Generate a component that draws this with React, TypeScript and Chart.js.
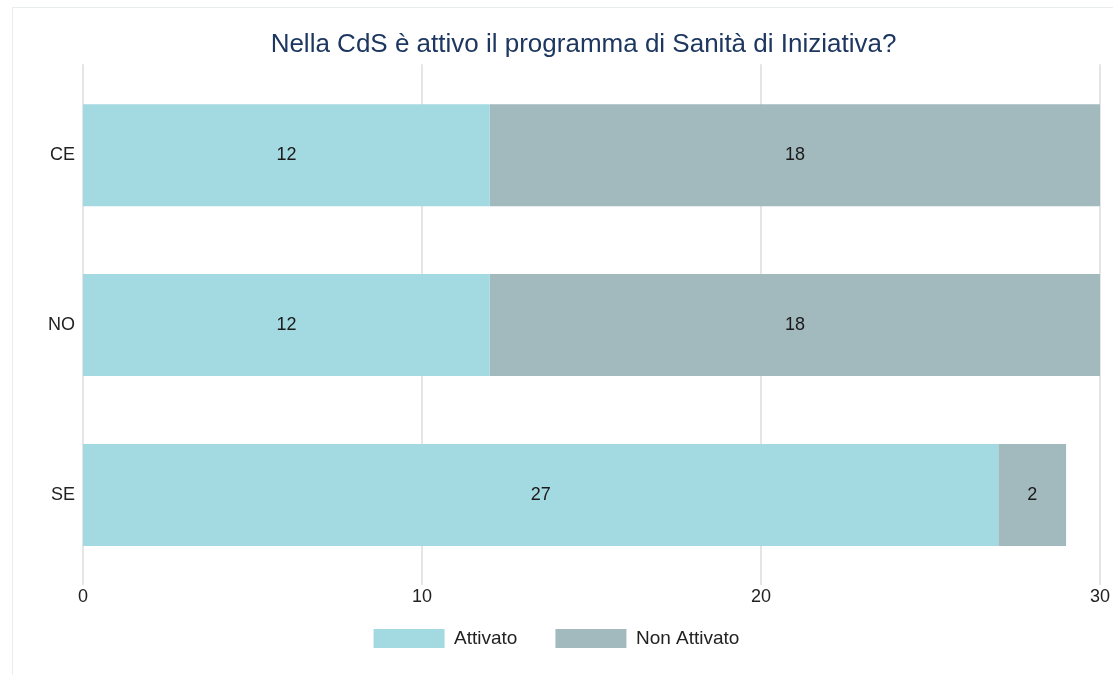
import React, { useEffect, useRef } from "react";
import { Chart, registerables } from "chart.js";

Chart.register(...registerables);

const categories = ["CE", "NO", "SE"];
const attivato = [12, 12, 27];
const nonAttivato = [18, 18, 2];
const seriesNames = ["Attivato", "Non Attivato"];
const xMin = 0;
const xMax = 30;
const xStep = 10;
const titleText = "Nella CdS è attivo il programma di Sanità di Iniziativa?";

const FONT = "'Liberation Sans', Arial, Helvetica, sans-serif";
const COLOR_ATT = "#a3d9e1";
const COLOR_NON = "#a2b9bd";

const gridPlugin = {
  id: "gridExt",
  beforeDatasetsDraw(chart: any) {
    const { ctx, chartArea, scales } = chart;
    const x = scales.x;
    ctx.save();
    ctx.strokeStyle = "#dcdcdc";
    ctx.lineWidth = 1.5;
    x.ticks.forEach((t: any) => {
      const px = x.getPixelForValue(t.value);
      ctx.beginPath();
      ctx.moveTo(px, chartArea.top - 6);
      ctx.lineTo(px, chartArea.bottom + 5);
      ctx.stroke();
    });
    ctx.restore();
  },
};

const valueLabelPlugin = {
  id: "valueLabels",
  afterDatasetsDraw(chart: any) {
    const { ctx } = chart;
    ctx.save();
    ctx.font = `18px ${FONT}`;
    ctx.fillStyle = "#1a1a1a";
    ctx.textAlign = "center";
    ctx.textBaseline = "middle";
    chart.data.datasets.forEach((ds: any, i: number) => {
      const meta = chart.getDatasetMeta(i);
      meta.data.forEach((el: any, j: number) => {
        const v = ds.data[j];
        if (!v) return;
        const p = el.getCenterPoint();
        ctx.fillText(String(v), p.x, p.y);
      });
    });
    ctx.restore();
  },
};

const shiftPlugin = {
  id: "blockShift",
  afterLayout(chart: any) {
    const t = chart.titleBlock;
    if (t) {
      t.left += 27;
      t.right += 27;
    }
    const l = chart.legend;
    if (l) {
      l.top -= 17;
      l.bottom -= 17;
    }
  },
};

export default function App() {
  const ref = useRef<HTMLCanvasElement>(null);

  useEffect(() => {
    const chart = new Chart(ref.current!, {
      type: "bar",
      data: {
        labels: categories,
        datasets: [
          {
            label: seriesNames[0],
            data: attivato,
            backgroundColor: COLOR_ATT,
            borderWidth: 0,
            categoryPercentage: 1,
            barPercentage: 0.6,
          },
          {
            label: seriesNames[1],
            data: nonAttivato,
            backgroundColor: COLOR_NON,
            borderWidth: 0,
            categoryPercentage: 1,
            barPercentage: 0.6,
          },
        ],
      },
      options: {
        indexAxis: "y",
        animation: false,
        responsive: true,
        maintainAspectRatio: false,
        layout: { padding: { left: 0, right: 20, top: 0, bottom: 0 } },
        scales: {
          x: {
            stacked: true,
            min: xMin,
            max: xMax,
            ticks: {
              stepSize: xStep,
              padding: 6,
              color: "#222",
              font: { family: FONT, size: 18 },
            },
            grid: { display: false, drawTicks: false },
            border: { display: false },
            afterFit: (scale: any) => {
              scale.height = 28;
            },
          },
          y: {
            stacked: true,
            ticks: {
              padding: 8,
              color: "#222",
              font: { family: FONT, size: 18 },
            },
            grid: { display: false, drawTicks: false },
            border: { display: false },
            afterFit: (scale: any) => {
              scale.width = 70;
            },
          },
        },
        plugins: {
          title: {
            display: true,
            text: titleText,
            color: "#1d3760",
            font: { family: FONT, size: 26, weight: "normal" },
            padding: { top: 21, bottom: 10 },
          },
          legend: {
            display: true,
            position: "bottom",
            labels: {
              boxWidth: 71,
              boxHeight: 19,
              padding: 38,
              color: "#222",
              font: { family: FONT, size: 19 },
            },
          },
          tooltip: { enabled: false },
        },
      },
      plugins: [gridPlugin, valueLabelPlugin, shiftPlugin],
    });
    return () => chart.destroy();
  }, []);

  return (
    <div
      style={{
        position: "fixed",
        left: 0,
        top: 0,
        width: 1113,
        height: 675,
        overflow: "hidden",
        background: "#fff",
      }}
    >
      <div
        style={{
          position: "absolute",
          left: 12,
          top: 7,
          width: 1107,
          height: 700,
          border: "1px solid #e8eded",
        }}
      >
        <div style={{ position: "relative", width: 1107, height: 667 }}>
          <canvas ref={ref} />
        </div>
      </div>
    </div>
  );
}
